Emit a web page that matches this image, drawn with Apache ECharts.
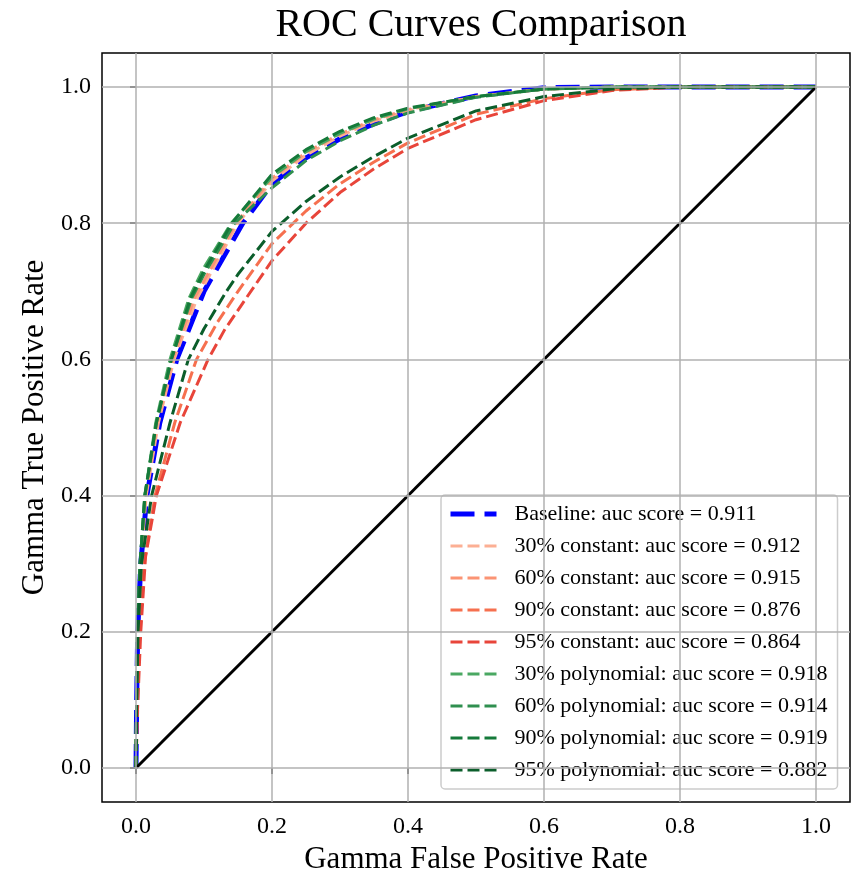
<!DOCTYPE html>
<html>
<head>
<meta charset="utf-8">
<script src="https://cdn.jsdelivr.net/npm/echarts@6/dist/echarts.min.js"></script>
<style>
html,body{margin:0;padding:0;background:#fff;}
#chart{width:856px;height:871px;}
</style>
</head>
<body>
<div id="chart"></div>
<script>
// ---- data ----
const seriesNames = [
  'Baseline: auc score = 0.911',
  '30% constant: auc score = 0.912',
  '60% constant: auc score = 0.915',
  '90% constant: auc score = 0.876',
  '95% constant: auc score = 0.864',
  '30% polynomial: auc score = 0.918',
  '60% polynomial: auc score = 0.914',
  '90% polynomial: auc score = 0.919',
  '95% polynomial: auc score = 0.882'
];
const fprBaseline = [0, 0.001, 0.0025, 0.007, 0.016, 0.035, 0.06, 0.1, 0.157, 0.2, 0.25, 0.3, 0.35, 0.4, 0.5, 0.6, 0.7, 0.8, 0.9, 1.0];
const tprBaseline = [0, 0.1, 0.2, 0.3, 0.4, 0.507, 0.6, 0.70, 0.8, 0.858, 0.896, 0.924, 0.946, 0.964, 0.987, 0.999, 1.0, 1.0, 1.0, 1.0];

const fprConst30 = [0, 0.001, 0.0025, 0.007, 0.015, 0.033, 0.056, 0.09, 0.15, 0.2, 0.25, 0.3, 0.35, 0.4, 0.5, 0.6, 0.7, 0.8, 0.9, 1.0];
const tprConst30 = [0, 0.1, 0.2, 0.3, 0.4, 0.507, 0.6, 0.69, 0.8, 0.862, 0.9, 0.928, 0.95, 0.965, 0.986, 0.997, 1.0, 1.0, 1.0, 1.0];

const fprConst60 = [0, 0.001, 0.0022, 0.0065, 0.014, 0.031, 0.054, 0.086, 0.147, 0.2, 0.25, 0.3, 0.35, 0.4, 0.5, 0.6, 0.7, 0.8, 0.9, 1.0];
const tprConst60 = [0, 0.11, 0.2, 0.3, 0.4, 0.507, 0.6, 0.69, 0.8, 0.866, 0.904, 0.931, 0.952, 0.967, 0.986, 0.997, 1.0, 1.0, 1.0, 1.0];

const fprConst90 = [0, 0.002, 0.005, 0.012, 0.028, 0.057, 0.089, 0.12, 0.15, 0.2, 0.25, 0.3, 0.35, 0.4, 0.5, 0.6, 0.7, 0.8, 0.9, 1.0];
const tprConst90 = [0, 0.1, 0.2, 0.3, 0.4, 0.507, 0.6, 0.655, 0.70, 0.77, 0.818, 0.858, 0.89, 0.918, 0.96, 0.983, 0.996, 1.0, 1.0, 1.0];

const fprConst95 = [0, 0.002, 0.007, 0.014, 0.03, 0.065, 0.106, 0.13, 0.16, 0.2, 0.25, 0.3, 0.35, 0.4, 0.5, 0.6, 0.7, 0.8, 0.9, 1.0];
const tprConst95 = [0, 0.08, 0.2, 0.31, 0.4, 0.507, 0.6, 0.643, 0.687, 0.745, 0.80, 0.845, 0.88, 0.91, 0.952, 0.98, 0.995, 1.0, 1.0, 1.0];

const fprPoly30 = [0, 0.001, 0.002, 0.006, 0.013, 0.029, 0.05, 0.078, 0.1, 0.14, 0.2, 0.25, 0.3, 0.35, 0.4, 0.5, 0.6, 0.7, 0.8, 1.0];
const tprPoly30 = [0, 0.12, 0.2, 0.3, 0.4, 0.507, 0.6, 0.69, 0.735, 0.8, 0.868, 0.905, 0.932, 0.953, 0.968, 0.986, 0.997, 1.0, 1.0, 1.0];

const fprPoly60 = [0, 0.001, 0.002, 0.006, 0.013, 0.03, 0.052, 0.082, 0.1, 0.145, 0.2, 0.25, 0.3, 0.35, 0.4, 0.5, 0.6, 0.7, 0.8, 1.0];
const tprPoly60 = [0, 0.12, 0.2, 0.3, 0.4, 0.507, 0.6, 0.69, 0.725, 0.8, 0.852, 0.892, 0.921, 0.944, 0.962, 0.985, 0.997, 1.0, 1.0, 1.0];

const fprPoly90 = [0, 0.001, 0.002, 0.006, 0.013, 0.03, 0.052, 0.08, 0.1, 0.141, 0.2, 0.25, 0.3, 0.35, 0.4, 0.5, 0.6, 0.7, 0.8, 1.0];
const tprPoly90 = [0, 0.12, 0.2, 0.3, 0.4, 0.507, 0.6, 0.69, 0.73, 0.8, 0.872, 0.908, 0.935, 0.955, 0.969, 0.986, 0.997, 1.0, 1.0, 1.0];

const fprPoly95 = [0, 0.001, 0.003, 0.008, 0.023, 0.05, 0.077, 0.1, 0.133, 0.15, 0.2, 0.25, 0.3, 0.35, 0.4, 0.5, 0.6, 0.7, 0.8, 1.0];
const tprPoly95 = [0, 0.1, 0.2, 0.3, 0.4, 0.507, 0.6, 0.645, 0.7, 0.725, 0.788, 0.832, 0.868, 0.898, 0.925, 0.965, 0.986, 0.997, 1.0, 1.0];

const fprDiagonal = [0, 1];
const tprDiagonal = [0, 1];

const tickValues = [0, 0.2, 0.4, 0.6, 0.8, 1.0];

// ---- styles ----
const FONT = "'Liberation Serif', 'DejaVu Serif', serif";
const colors = ['#0000ff', '#fcaf94', '#fb9474', '#f6704f', '#e8453a', '#4aa862', '#2f8f4f', '#157a3a', '#0b5e2b'];
const fprList = [fprBaseline, fprConst30, fprConst60, fprConst90, fprConst95, fprPoly30, fprPoly60, fprPoly90, fprPoly95];
const tprList = [tprBaseline, tprConst30, tprConst60, tprConst90, tprConst95, tprPoly30, tprPoly60, tprPoly90, tprPoly95];

function pairs(xs, ys) { return xs.map((x, i) => [x, ys[i]]); }
function lineStyleFor(i) {
  return i === 0
    ? { color: colors[i], width: 5, type: [24, 10] }
    : { color: colors[i], width: 3, type: [12, 5] };
}

const series = [];
// grid lines
series.push({
  type: 'line', data: [], z: 1, silent: true, symbol: 'none',
  markLine: {
    silent: true, symbol: 'none', animation: false,
    label: { show: false },
    lineStyle: { color: '#b0b0b0', width: 1.5, type: 'solid' },
    data: tickValues.map(v => ({ xAxis: v })).concat(tickValues.map(v => ({ yAxis: v })))
  }
});
seriesNames.forEach((name, i) => {
  series.push({
    name: name, type: 'line', z: 2,
    data: pairs(fprList[i], tprList[i]),
    symbol: 'none', showSymbol: false,
    smooth: false,
    color: colors[i],
    lineStyle: lineStyleFor(i)
  });
});
series.push({
  name: 'diag', type: 'line', z: 3,
  data: pairs(fprDiagonal, tprDiagonal), symbol: 'none',
  lineStyle: { color: '#000', width: 3, type: 'solid' }
});

const chart = echarts.init(document.getElementById('chart'), null, { renderer: 'canvas' });
chart.setOption({
  animation: false,
  backgroundColor: '#fff',
  title: {
    text: 'ROC Curves Comparison', left: 476, top: 0, textAlign: 'center',
    textStyle: { fontFamily: FONT, fontSize: 40, fontWeight: 'normal', color: '#000' }
  },
  grid: {
    left: 102, top: 53, width: 748, height: 749, containLabel: false, outerBoundsMode: 'none',
    show: true, borderColor: '#000', borderWidth: 1.5, backgroundColor: 'transparent'
  },
  xAxis: {
    type: 'value', min: -0.05, max: 1.05,
    name: 'Gamma False Positive Rate', nameLocation: 'middle', nameGap: 40,
    nameTextStyle: { fontFamily: FONT, fontSize: 31, color: '#000' },
    axisLine: { show: false },
    axisTick: { show: true, inside: false, length: 6, customValues: tickValues, lineStyle: { color: '#000', width: 1.5 } },
    axisLabel: { customValues: tickValues, margin: 13, fontFamily: FONT, fontSize: 24, color: '#000', formatter: v => v.toFixed(1) },
    splitLine: { show: false }
  },
  yAxis: {
    type: 'value', min: -0.05, max: 1.05,
    name: 'Gamma True Positive Rate', nameLocation: 'middle', nameGap: 50, nameRotate: 90,
    nameTextStyle: { fontFamily: FONT, fontSize: 31, color: '#000' },
    axisLine: { show: false },
    axisTick: { show: true, inside: false, length: 6, customValues: tickValues, lineStyle: { color: '#000', width: 1.5 } },
    axisLabel: { customValues: tickValues, margin: 11, fontFamily: FONT, fontSize: 24, color: '#000', formatter: v => v.toFixed(1) },
    splitLine: { show: false }
  },
  legend: {
    data: seriesNames.map((n, i) => ({ name: n, lineStyle: lineStyleFor(i), itemStyle: { opacity: 0 } })),
    orient: 'vertical', left: 441, top: 495,
    padding: [8, 10, 8, 7], itemGap: 10, itemWidth: 46, itemHeight: 14,
    itemStyle: { opacity: 0 },
    backgroundColor: 'rgba(255,255,255,0.8)', borderColor: '#cccccc', borderWidth: 1.5, borderRadius: 4,
    selectedMode: false,
    textStyle: { fontFamily: FONT, fontSize: 22, color: '#000', lineHeight: 22, padding: [0, 0, 0, 13] }
  },
  series: series
});
</script>
</body>
</html>
